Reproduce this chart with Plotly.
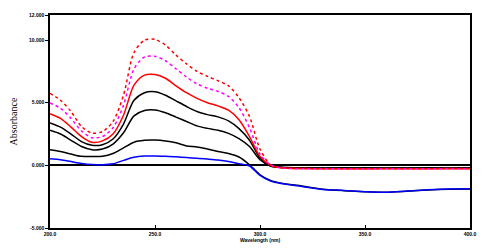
import plotly.graph_objects as go

# wavelength (nm)
wl = [200, 205, 210, 215, 220, 225, 230, 235, 240, 245, 250, 255, 260, 265, 270, 275,
      280, 285, 290, 295, 300, 305, 310, 320, 330, 340, 350, 360, 370, 380, 390, 400]

# absorbance of each spectrum
red_dot = [5.75, 5.2, 4.3, 3.1, 2.57, 2.7, 3.5, 5.6, 9.0, 10.0, 10.05, 9.6, 8.8, 8.1, 7.5, 7.1,
           6.75, 6.35, 5.4, 3.9, 1.3, 0.05, -0.2, -0.25, -0.27, -0.28, -0.27, -0.28, -0.26, -0.27, -0.25, -0.26]
magenta = [4.99, 4.55, 3.75, 2.75, 2.2, 2.3, 3.0, 4.8, 7.7, 8.65, 8.7, 8.35, 7.7, 7.05, 6.5, 6.15,
           5.9, 5.5, 4.6, 3.0, 0.9, 0.05, -0.2, -0.27, -0.26, -0.28, -0.29, -0.27, -0.28, -0.27, -0.26, -0.27]
red = [4.13, 3.75, 3.05, 2.3, 1.84, 1.95, 2.5, 4.0, 6.4, 7.2, 7.25, 6.95, 6.35, 5.8, 5.35, 5.0,
       4.75, 4.4, 3.64, 2.3, 0.7, 0.0, -0.2, -0.26, -0.27, -0.27, -0.28, -0.26, -0.27, -0.28, -0.27, -0.28]
black1 = [3.39, 3.05, 2.5, 1.9, 1.6, 1.65, 2.1, 3.3, 5.2, 5.8, 5.88, 5.6, 5.15, 4.7, 4.3, 4.05,
          3.87, 3.55, 2.93, 2.0, 0.6, -0.05, -0.15, -0.2, -0.22, -0.2, -0.23, -0.21, -0.22, -0.2, -0.22, -0.21]
black2 = [2.8, 2.5, 2.0, 1.5, 1.25, 1.3, 1.7, 2.6, 3.95, 4.38, 4.42, 4.2, 3.85, 3.5, 3.15, 2.95,
          2.8, 2.55, 2.13, 1.5, 0.45, -0.05, -0.15, -0.2, -0.21, -0.22, -0.2, -0.22, -0.21, -0.23, -0.21, -0.22]
black3 = [1.25, 1.1, 0.9, 0.72, 0.7, 0.72, 0.95, 1.4, 1.85, 2.0, 2.02, 1.95, 1.8, 1.55, 1.46, 1.3,
          1.1, 0.95, 0.67, 0.05, -0.75, -1.2, -1.42, -1.65, -1.9, -2.02, -2.1, -2.14, -2.06, -1.96, -1.9, -1.88]
blue = [0.53, 0.45, 0.3, 0.15, 0.06, 0.04, 0.12, 0.4, 0.65, 0.74, 0.75, 0.72, 0.68, 0.62, 0.57, 0.5,
        0.42, 0.3, 0.12, -0.05, -0.8, -1.25, -1.45, -1.68, -1.92, -2.0, -2.1, -2.15, -2.05, -1.95, -1.88, -1.87]

x_ticks = [200, 250, 300, 350, 400]
x_labels = ["200.0", "250.0", "300.0", "350.0", "400.0"]
y_ticks = [-5, 0, 5, 10, 12]
y_labels = ["-5.000", "0.000", "5.000", "10.000", "12.000"]

series = [
    (black1, "black", "solid"),
    (black2, "black", "solid"),
    (black3, "black", "solid"),
    (blue, "#0000ff", "solid"),
    (red, "#ff0000", "solid"),
    (magenta, "#ff00ff", "dot"),
    (red_dot, "#ff0000", "dot"),
]

fig = go.Figure()
for ys, col, dash in series:
    fig.add_trace(go.Scatter(x=wl, y=ys, mode="lines",
                             line=dict(color=col, width=1.5, dash=dash, shape="spline", smoothing=0.8),
                             showlegend=False, hoverinfo="skip"))

tick_font = dict(family="Liberation Sans", size=5, color="black", weight="bold")

# the page body adds an 8px offset, so margins are shifted to compensate
fig.update_layout(
    width=500, height=249,
    margin=dict(l=42, r=38, t=7, b=29),
    paper_bgcolor="white", plot_bgcolor="white",
    xaxis=dict(range=[200, 400], tickvals=x_ticks, ticktext=x_labels, ticks="inside", ticklen=3,
               tickcolor="black", showgrid=False, zeroline=False, showline=True, linecolor="black",
               linewidth=1.5, mirror=True, tickfont=tick_font, automargin=False,
               title=dict(text="Wavelength (nm)", font=tick_font, standoff=1)),
    yaxis=dict(range=[-5, 12], tickvals=y_ticks, ticktext=y_labels, ticks="outside", ticklen=3,
               tickcolor="black", showgrid=False, zeroline=True, zerolinecolor="black", zerolinewidth=1.5,
               showline=True, linecolor="black", linewidth=1.5, mirror=True, tickfont=tick_font,
               automargin=False,
               title=dict(text="Absorbance", font=dict(family="Liberation Serif", size=10, color="black"),
                          standoff=9)),
)

fig.write_html("out.html")
